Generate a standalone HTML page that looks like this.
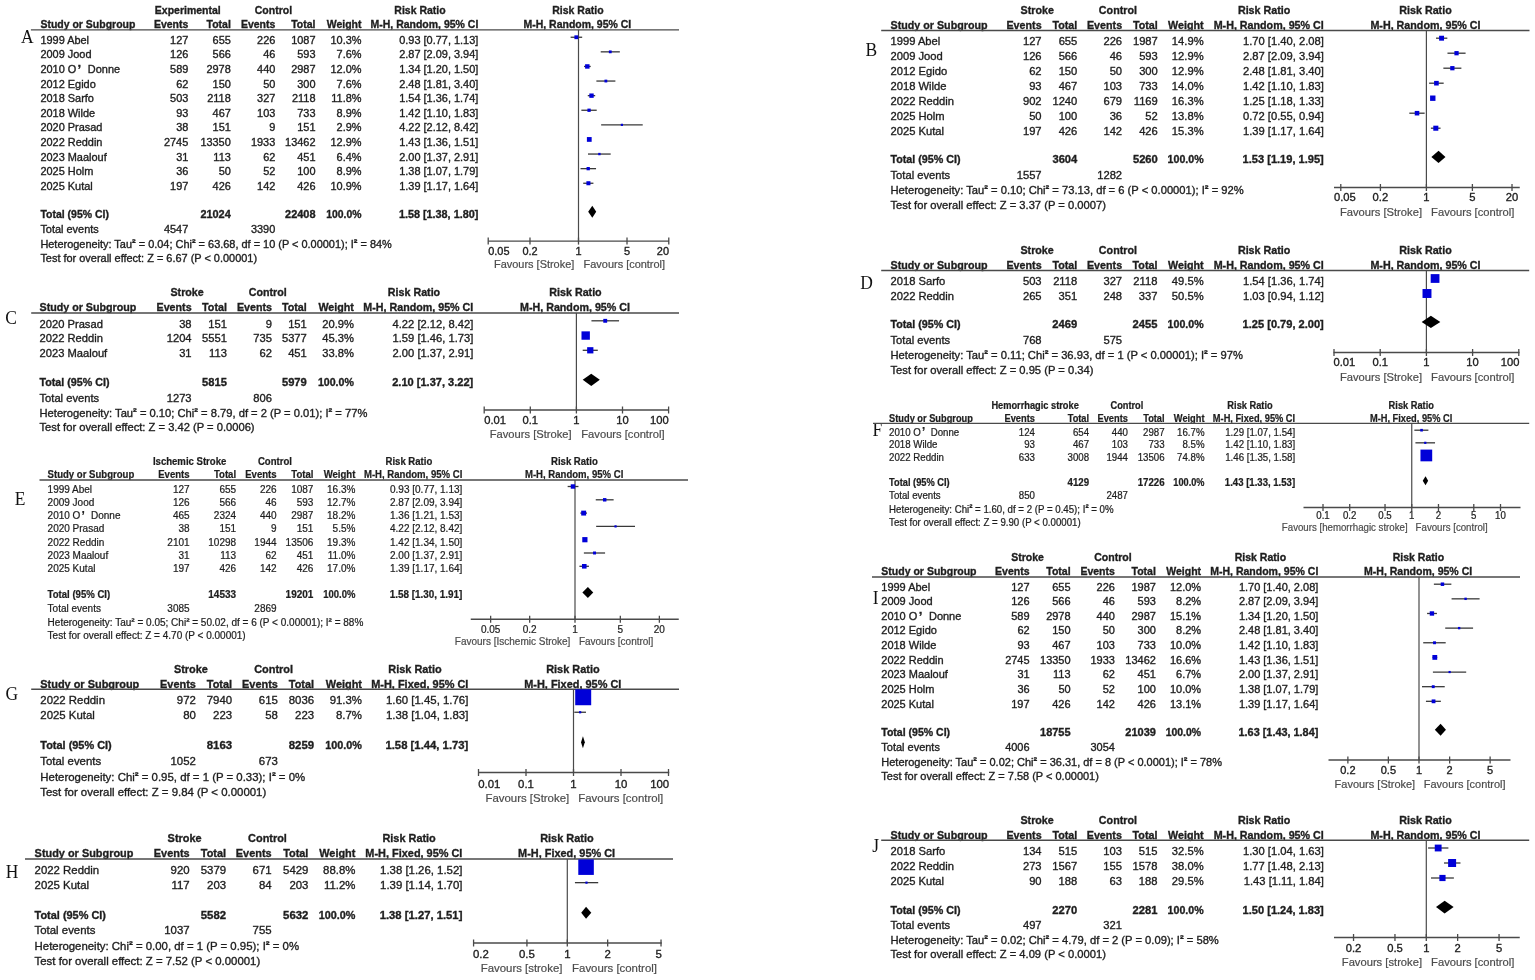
<!DOCTYPE html>
<html><head><meta charset="utf-8"><title>Forest plots</title>
<style>
html,body{margin:0;padding:0;background:#fff;}
body{width:1535px;height:980px;overflow:hidden;}
svg{display:block;}
text{font-family:"Liberation Sans",Arial,sans-serif;fill:#1e1e1e;stroke:#1e1e1e;}
text.lbl{font-family:"Liberation Serif","Times New Roman",serif;fill:#111;stroke:none;}
text.fav{fill:#4c4c4c;stroke:#4c4c4c;stroke-width:0.2px;}
tspan.cj{font-family:"Noto Sans CJK SC","Liberation Sans",sans-serif;}
</style></head><body>
<svg width="1535" height="980" viewBox="0 0 1535 980">
<rect width="1535" height="980" fill="#fff"/>
<g style="stroke-width:0.35px">
<text transform="translate(21 43) scale(0.95 1)" font-size="18.4" class="lbl">A</text>
<text transform="translate(187.75 13.75) scale(0.9580 1)" font-size="10.95" text-anchor="middle" font-weight="bold">Experimental</text>
<text transform="translate(273.4 13.75) scale(0.9580 1)" font-size="10.95" text-anchor="middle" font-weight="bold">Control</text>
<text transform="translate(420 13.75) scale(0.9580 1)" font-size="10.95" text-anchor="middle" font-weight="bold">Risk Ratio</text>
<text transform="translate(577.9 13.75) scale(0.9580 1)" font-size="10.95" text-anchor="middle" font-weight="bold">Risk Ratio</text>
<text transform="translate(40.4 27.6) scale(0.9580 1)" font-size="10.95" font-weight="bold">Study or Subgroup</text>
<text transform="translate(188.3 27.6) scale(0.9580 1)" font-size="10.95" text-anchor="end" font-weight="bold">Events</text>
<text transform="translate(230.8 27.6) scale(0.9580 1)" font-size="10.95" text-anchor="end" font-weight="bold">Total</text>
<text transform="translate(275.3 27.6) scale(0.9580 1)" font-size="10.95" text-anchor="end" font-weight="bold">Events</text>
<text transform="translate(315.5 27.6) scale(0.9580 1)" font-size="10.95" text-anchor="end" font-weight="bold">Total</text>
<text transform="translate(361.5 27.6) scale(0.9580 1)" font-size="10.95" text-anchor="end" font-weight="bold">Weight</text>
<text transform="translate(478.3 27.6) scale(0.9580 1)" font-size="10.95" text-anchor="end" font-weight="bold">M-H, Random, 95% CI</text>
<text transform="translate(577.35 27.6) scale(0.9580 1)" font-size="10.95" text-anchor="middle" font-weight="bold">M-H, Random, 95% CI</text>
<line x1="30.9" y1="29.9" x2="679" y2="29.9" stroke="#4a4a4a" stroke-width="1.4"/>
<line x1="578.5" y1="29.9" x2="578.5" y2="241.1" stroke="#4a4a4a" stroke-width="1.2"/>
<text x="40.4" y="43.75" font-size="10.95">1999 Abel</text>
<text x="188.3" y="43.75" font-size="10.95" text-anchor="end">127</text>
<text x="230.8" y="43.75" font-size="10.95" text-anchor="end">655</text>
<text x="275.3" y="43.75" font-size="10.95" text-anchor="end">226</text>
<text x="315.5" y="43.75" font-size="10.95" text-anchor="end">1087</text>
<text x="361.5" y="43.75" font-size="10.95" text-anchor="end">10.3%</text>
<text x="478.3" y="43.75" font-size="10.95" text-anchor="end">0.93 [0.77, 1.13]</text>
<line x1="570.62" y1="37.25" x2="582.18" y2="37.25" stroke="#383838" stroke-width="1.3"/>
<rect x="574.41" y="35.34" width="3.81" height="3.81" fill="#0000d8"/>
<text x="40.4" y="58.35" font-size="10.95">2009 Jood</text>
<text x="188.3" y="58.35" font-size="10.95" text-anchor="end">126</text>
<text x="230.8" y="58.35" font-size="10.95" text-anchor="end">566</text>
<text x="275.3" y="58.35" font-size="10.95" text-anchor="end">46</text>
<text x="315.5" y="58.35" font-size="10.95" text-anchor="end">593</text>
<text x="361.5" y="58.35" font-size="10.95" text-anchor="end">7.6%</text>
<text x="478.3" y="58.35" font-size="10.95" text-anchor="end">2.87 [2.09, 3.94]</text>
<line x1="600.72" y1="51.85" x2="619.83" y2="51.85" stroke="#383838" stroke-width="1.3"/>
<rect x="608.87" y="50.44" width="2.81" height="2.81" fill="#0000d8"/>
<text x="40.4" y="72.95" font-size="10.95">2010 O<tspan font-weight="bold" font-size="1.2em" dx="1.31" dy="1.09">’</tspan> <tspan dx="3.56" dy="-1.09">Donne</tspan></text>
<text x="188.3" y="72.95" font-size="10.95" text-anchor="end">589</text>
<text x="230.8" y="72.95" font-size="10.95" text-anchor="end">2978</text>
<text x="275.3" y="72.95" font-size="10.95" text-anchor="end">440</text>
<text x="315.5" y="72.95" font-size="10.95" text-anchor="end">2987</text>
<text x="361.5" y="72.95" font-size="10.95" text-anchor="end">12.0%</text>
<text x="478.3" y="72.95" font-size="10.95" text-anchor="end">1.34 [1.20, 1.50]</text>
<line x1="584" y1="66.45" x2="590.72" y2="66.45" stroke="#383838" stroke-width="1.3"/>
<rect x="585.1" y="64.23" width="4.44" height="4.44" fill="#0000d8"/>
<text x="40.4" y="87.55" font-size="10.95">2012 Egido</text>
<text x="188.3" y="87.55" font-size="10.95" text-anchor="end">62</text>
<text x="230.8" y="87.55" font-size="10.95" text-anchor="end">150</text>
<text x="275.3" y="87.55" font-size="10.95" text-anchor="end">50</text>
<text x="315.5" y="87.55" font-size="10.95" text-anchor="end">300</text>
<text x="361.5" y="87.55" font-size="10.95" text-anchor="end">7.6%</text>
<text x="478.3" y="87.55" font-size="10.95" text-anchor="end">2.48 [1.81, 3.40]</text>
<line x1="596.38" y1="81.05" x2="615.38" y2="81.05" stroke="#383838" stroke-width="1.3"/>
<rect x="604.47" y="79.64" width="2.81" height="2.81" fill="#0000d8"/>
<text x="40.4" y="102.15" font-size="10.95">2018 Sarfo</text>
<text x="188.3" y="102.15" font-size="10.95" text-anchor="end">503</text>
<text x="230.8" y="102.15" font-size="10.95" text-anchor="end">2118</text>
<text x="275.3" y="102.15" font-size="10.95" text-anchor="end">327</text>
<text x="315.5" y="102.15" font-size="10.95" text-anchor="end">2118</text>
<text x="361.5" y="102.15" font-size="10.95" text-anchor="end">11.8%</text>
<text x="478.3" y="102.15" font-size="10.95" text-anchor="end">1.54 [1.36, 1.74]</text>
<line x1="587.77" y1="95.65" x2="595.19" y2="95.65" stroke="#383838" stroke-width="1.3"/>
<rect x="589.33" y="93.47" width="4.37" height="4.37" fill="#0000d8"/>
<text x="40.4" y="116.75" font-size="10.95">2018 Wilde</text>
<text x="188.3" y="116.75" font-size="10.95" text-anchor="end">93</text>
<text x="230.8" y="116.75" font-size="10.95" text-anchor="end">467</text>
<text x="275.3" y="116.75" font-size="10.95" text-anchor="end">103</text>
<text x="315.5" y="116.75" font-size="10.95" text-anchor="end">733</text>
<text x="361.5" y="116.75" font-size="10.95" text-anchor="end">8.9%</text>
<text x="478.3" y="116.75" font-size="10.95" text-anchor="end">1.42 [1.10, 1.83]</text>
<line x1="581.37" y1="110.25" x2="596.71" y2="110.25" stroke="#383838" stroke-width="1.3"/>
<rect x="587.42" y="108.6" width="3.29" height="3.29" fill="#0000d8"/>
<text x="40.4" y="131.35" font-size="10.95">2020 Prasad</text>
<text x="188.3" y="131.35" font-size="10.95" text-anchor="end">38</text>
<text x="230.8" y="131.35" font-size="10.95" text-anchor="end">151</text>
<text x="275.3" y="131.35" font-size="10.95" text-anchor="end">9</text>
<text x="315.5" y="131.35" font-size="10.95" text-anchor="end">151</text>
<text x="361.5" y="131.35" font-size="10.95" text-anchor="end">2.9%</text>
<text x="478.3" y="131.35" font-size="10.95" text-anchor="end">4.22 [2.12, 8.42]</text>
<line x1="601.15" y1="124.85" x2="642.72" y2="124.85" stroke="#383838" stroke-width="1.3"/>
<rect x="620.8" y="123.75" width="2.2" height="2.2" fill="#0000d8"/>
<text x="40.4" y="145.95" font-size="10.95">2022 Reddin</text>
<text x="188.3" y="145.95" font-size="10.95" text-anchor="end">2745</text>
<text x="230.8" y="145.95" font-size="10.95" text-anchor="end">13350</text>
<text x="275.3" y="145.95" font-size="10.95" text-anchor="end">1933</text>
<text x="315.5" y="145.95" font-size="10.95" text-anchor="end">13462</text>
<text x="361.5" y="145.95" font-size="10.95" text-anchor="end">12.9%</text>
<text x="478.3" y="145.95" font-size="10.95" text-anchor="end">1.43 [1.36, 1.51]</text>
<line x1="587.77" y1="139.45" x2="590.92" y2="139.45" stroke="#383838" stroke-width="1.3"/>
<rect x="586.89" y="137.06" width="4.77" height="4.77" fill="#0000d8"/>
<text x="40.4" y="160.55" font-size="10.95">2023 Maalouf</text>
<text x="188.3" y="160.55" font-size="10.95" text-anchor="end">31</text>
<text x="230.8" y="160.55" font-size="10.95" text-anchor="end">113</text>
<text x="275.3" y="160.55" font-size="10.95" text-anchor="end">62</text>
<text x="315.5" y="160.55" font-size="10.95" text-anchor="end">451</text>
<text x="361.5" y="160.55" font-size="10.95" text-anchor="end">6.4%</text>
<text x="478.3" y="160.55" font-size="10.95" text-anchor="end">2.00 [1.37, 2.91]</text>
<line x1="587.99" y1="154.05" x2="610.69" y2="154.05" stroke="#383838" stroke-width="1.3"/>
<rect x="598.21" y="152.87" width="2.37" height="2.37" fill="#0000d8"/>
<text x="40.4" y="175.15" font-size="10.95">2025 Holm</text>
<text x="188.3" y="175.15" font-size="10.95" text-anchor="end">36</text>
<text x="230.8" y="175.15" font-size="10.95" text-anchor="end">50</text>
<text x="275.3" y="175.15" font-size="10.95" text-anchor="end">52</text>
<text x="315.5" y="175.15" font-size="10.95" text-anchor="end">100</text>
<text x="361.5" y="175.15" font-size="10.95" text-anchor="end">8.9%</text>
<text x="478.3" y="175.15" font-size="10.95" text-anchor="end">1.38 [1.07, 1.79]</text>
<line x1="580.54" y1="168.65" x2="596.05" y2="168.65" stroke="#383838" stroke-width="1.3"/>
<rect x="586.56" y="167" width="3.29" height="3.29" fill="#0000d8"/>
<text x="40.4" y="189.75" font-size="10.95">2025 Kutal</text>
<text x="188.3" y="189.75" font-size="10.95" text-anchor="end">197</text>
<text x="230.8" y="189.75" font-size="10.95" text-anchor="end">426</text>
<text x="275.3" y="189.75" font-size="10.95" text-anchor="end">142</text>
<text x="315.5" y="189.75" font-size="10.95" text-anchor="end">426</text>
<text x="361.5" y="189.75" font-size="10.95" text-anchor="end">10.9%</text>
<text x="478.3" y="189.75" font-size="10.95" text-anchor="end">1.39 [1.17, 1.64]</text>
<line x1="583.23" y1="183.25" x2="593.41" y2="183.25" stroke="#383838" stroke-width="1.3"/>
<rect x="586.41" y="181.23" width="4.03" height="4.03" fill="#0000d8"/>
<text transform="translate(40.4 217.9) scale(0.9580 1)" font-size="10.95" font-weight="bold">Total (95% CI)</text>
<text x="230.8" y="217.9" font-size="10.95" text-anchor="end" font-weight="bold">21024</text>
<text x="315.5" y="217.9" font-size="10.95" text-anchor="end" font-weight="bold">22408</text>
<text transform="translate(361.5 217.9) scale(0.9500 1)" font-size="10.95" text-anchor="end" font-weight="bold">100.0%</text>
<text transform="translate(478.3 217.9) scale(0.9900 1)" font-size="10.95" text-anchor="end" font-weight="bold">1.58 [1.38, 1.80]</text>
<polygon points="588.21,211.7 592.29,205.7 596.22,211.7 592.29,217.7" fill="#000"/>
<text x="40.4" y="233.1" font-size="10.95">Total events</text>
<text x="188.3" y="233.1" font-size="10.95" text-anchor="end">4547</text>
<text x="275.3" y="233.1" font-size="10.95" text-anchor="end">3390</text>
<text x="40.4" y="247.6" font-size="10.95">Heterogeneity: Tau<tspan font-weight="bold" baseline-shift="0.77">²</tspan> = 0.04; Chi<tspan font-weight="bold" baseline-shift="0.77">²</tspan> = 63.68, df = 10 (P &lt; 0.00001); I<tspan font-weight="bold" baseline-shift="0.77">²</tspan> = 84%</text>
<text x="40.4" y="262.1" font-size="10.95">Test for overall effect: Z = 6.67 (P &lt; 0.00001)</text>
<line x1="488.2" y1="241.1" x2="669" y2="241.1" stroke="#4a4a4a" stroke-width="1.4"/>
<line x1="488.21" y1="237.6" x2="488.21" y2="244.6" stroke="#4a4a4a" stroke-width="1.3"/>
<text x="488.2" y="254.9" font-size="10.95">0.05</text>
<line x1="529.99" y1="237.6" x2="529.99" y2="244.6" stroke="#4a4a4a" stroke-width="1.3"/>
<text x="522.38" y="254.9" font-size="10.95">0.2</text>
<line x1="578.5" y1="237.6" x2="578.5" y2="244.6" stroke="#4a4a4a" stroke-width="1.3"/>
<text x="575.46" y="254.9" font-size="10.95">1</text>
<line x1="627.01" y1="237.6" x2="627.01" y2="244.6" stroke="#4a4a4a" stroke-width="1.3"/>
<text x="623.96" y="254.9" font-size="10.95">5</text>
<line x1="668.79" y1="237.6" x2="668.79" y2="244.6" stroke="#4a4a4a" stroke-width="1.3"/>
<text x="656.82" y="254.9" font-size="10.95">20</text>
<text x="574.3" y="268.4" font-size="10.95" text-anchor="end" class="fav">Favours [Stroke]</text>
<text x="583.6" y="268.4" font-size="10.95" class="fav">Favours [control]</text>
</g>
<g style="stroke-width:0.35px">
<text transform="translate(865.5 55.5) scale(0.95 1)" font-size="18.4" class="lbl">B</text>
<text transform="translate(1037.25 13.75) scale(0.9580 1)" font-size="11.2" text-anchor="middle" font-weight="bold">Stroke</text>
<text transform="translate(1117.9 13.75) scale(0.9580 1)" font-size="11.2" text-anchor="middle" font-weight="bold">Control</text>
<text transform="translate(1264.1 13.75) scale(0.9580 1)" font-size="11.2" text-anchor="middle" font-weight="bold">Risk Ratio</text>
<text transform="translate(1425.5 13.75) scale(0.9580 1)" font-size="11.2" text-anchor="middle" font-weight="bold">Risk Ratio</text>
<text transform="translate(890.5 28.75) scale(0.9580 1)" font-size="11.2" font-weight="bold">Study or Subgroup</text>
<text transform="translate(1041.6 28.75) scale(0.9580 1)" font-size="11.2" text-anchor="end" font-weight="bold">Events</text>
<text transform="translate(1077.3 28.75) scale(0.9580 1)" font-size="11.2" text-anchor="end" font-weight="bold">Total</text>
<text transform="translate(1122.1 28.75) scale(0.9580 1)" font-size="11.2" text-anchor="end" font-weight="bold">Events</text>
<text transform="translate(1157.8 28.75) scale(0.9580 1)" font-size="11.2" text-anchor="end" font-weight="bold">Total</text>
<text transform="translate(1203.6 28.75) scale(0.9580 1)" font-size="11.2" text-anchor="end" font-weight="bold">Weight</text>
<text transform="translate(1323.8 28.75) scale(0.9580 1)" font-size="11.2" text-anchor="end" font-weight="bold">M-H, Random, 95% CI</text>
<text transform="translate(1425.5 28.75) scale(0.9580 1)" font-size="11.2" text-anchor="middle" font-weight="bold">M-H, Random, 95% CI</text>
<line x1="881.2" y1="30.5" x2="1529.5" y2="30.5" stroke="#4a4a4a" stroke-width="1.4"/>
<line x1="1426.4" y1="30.5" x2="1426.4" y2="187.5" stroke="#4a4a4a" stroke-width="1.2"/>
<text x="890.5" y="44.5" font-size="11.2">1999 Abel</text>
<text x="1041.6" y="44.5" font-size="11.2" text-anchor="end">127</text>
<text x="1077.3" y="44.5" font-size="11.2" text-anchor="end">655</text>
<text x="1122.1" y="44.5" font-size="11.2" text-anchor="end">226</text>
<text x="1157.8" y="44.5" font-size="11.2" text-anchor="end">1987</text>
<text x="1203.6" y="44.5" font-size="11.2" text-anchor="end">14.9%</text>
<text x="1323.8" y="44.5" font-size="11.2" text-anchor="end">1.70 [1.40, 2.08]</text>
<line x1="1436.02" y1="38.2" x2="1447.33" y2="38.2" stroke="#383838" stroke-width="1.3"/>
<rect x="1439.11" y="35.74" width="4.92" height="4.92" fill="#0000d8"/>
<text x="890.5" y="59.5" font-size="11.2">2009 Jood</text>
<text x="1041.6" y="59.5" font-size="11.2" text-anchor="end">126</text>
<text x="1077.3" y="59.5" font-size="11.2" text-anchor="end">566</text>
<text x="1122.1" y="59.5" font-size="11.2" text-anchor="end">46</text>
<text x="1157.8" y="59.5" font-size="11.2" text-anchor="end">593</text>
<text x="1203.6" y="59.5" font-size="11.2" text-anchor="end">12.9%</text>
<text x="1323.8" y="59.5" font-size="11.2" text-anchor="end">2.87 [2.09, 3.94]</text>
<line x1="1447.47" y1="53.2" x2="1465.58" y2="53.2" stroke="#383838" stroke-width="1.3"/>
<rect x="1454.4" y="51.07" width="4.26" height="4.26" fill="#0000d8"/>
<text x="890.5" y="74.5" font-size="11.2">2012 Egido</text>
<text x="1041.6" y="74.5" font-size="11.2" text-anchor="end">62</text>
<text x="1077.3" y="74.5" font-size="11.2" text-anchor="end">150</text>
<text x="1122.1" y="74.5" font-size="11.2" text-anchor="end">50</text>
<text x="1157.8" y="74.5" font-size="11.2" text-anchor="end">300</text>
<text x="1203.6" y="74.5" font-size="11.2" text-anchor="end">12.9%</text>
<text x="1323.8" y="74.5" font-size="11.2" text-anchor="end">2.48 [1.81, 3.40]</text>
<line x1="1443.36" y1="68.2" x2="1461.37" y2="68.2" stroke="#383838" stroke-width="1.3"/>
<rect x="1450.23" y="66.07" width="4.26" height="4.26" fill="#0000d8"/>
<text x="890.5" y="89.5" font-size="11.2">2018 Wilde</text>
<text x="1041.6" y="89.5" font-size="11.2" text-anchor="end">93</text>
<text x="1077.3" y="89.5" font-size="11.2" text-anchor="end">467</text>
<text x="1122.1" y="89.5" font-size="11.2" text-anchor="end">103</text>
<text x="1157.8" y="89.5" font-size="11.2" text-anchor="end">733</text>
<text x="1203.6" y="89.5" font-size="11.2" text-anchor="end">14.0%</text>
<text x="1323.8" y="89.5" font-size="11.2" text-anchor="end">1.42 [1.10, 1.83]</text>
<line x1="1429.12" y1="83.2" x2="1443.67" y2="83.2" stroke="#383838" stroke-width="1.3"/>
<rect x="1434.11" y="80.89" width="4.62" height="4.62" fill="#0000d8"/>
<text x="890.5" y="104.5" font-size="11.2">2022 Reddin</text>
<text x="1041.6" y="104.5" font-size="11.2" text-anchor="end">902</text>
<text x="1077.3" y="104.5" font-size="11.2" text-anchor="end">1240</text>
<text x="1122.1" y="104.5" font-size="11.2" text-anchor="end">679</text>
<text x="1157.8" y="104.5" font-size="11.2" text-anchor="end">1169</text>
<text x="1203.6" y="104.5" font-size="11.2" text-anchor="end">16.3%</text>
<text x="1323.8" y="104.5" font-size="11.2" text-anchor="end">1.25 [1.18, 1.33]</text>
<line x1="1431.13" y1="98.2" x2="1434.55" y2="98.2" stroke="#383838" stroke-width="1.3"/>
<rect x="1430.09" y="95.51" width="5.38" height="5.38" fill="#0000d8"/>
<text x="890.5" y="119.5" font-size="11.2">2025 Holm</text>
<text x="1041.6" y="119.5" font-size="11.2" text-anchor="end">50</text>
<text x="1077.3" y="119.5" font-size="11.2" text-anchor="end">100</text>
<text x="1122.1" y="119.5" font-size="11.2" text-anchor="end">36</text>
<text x="1157.8" y="119.5" font-size="11.2" text-anchor="end">52</text>
<text x="1203.6" y="119.5" font-size="11.2" text-anchor="end">13.8%</text>
<text x="1323.8" y="119.5" font-size="11.2" text-anchor="end">0.72 [0.55, 0.94]</text>
<line x1="1409.32" y1="113.2" x2="1424.63" y2="113.2" stroke="#383838" stroke-width="1.3"/>
<rect x="1414.74" y="110.92" width="4.55" height="4.55" fill="#0000d8"/>
<text x="890.5" y="134.5" font-size="11.2">2025 Kutal</text>
<text x="1041.6" y="134.5" font-size="11.2" text-anchor="end">197</text>
<text x="1077.3" y="134.5" font-size="11.2" text-anchor="end">426</text>
<text x="1122.1" y="134.5" font-size="11.2" text-anchor="end">142</text>
<text x="1157.8" y="134.5" font-size="11.2" text-anchor="end">426</text>
<text x="1203.6" y="134.5" font-size="11.2" text-anchor="end">15.3%</text>
<text x="1323.8" y="134.5" font-size="11.2" text-anchor="end">1.39 [1.17, 1.64]</text>
<line x1="1430.89" y1="128.2" x2="1440.54" y2="128.2" stroke="#383838" stroke-width="1.3"/>
<rect x="1433.29" y="125.68" width="5.05" height="5.05" fill="#0000d8"/>
<text transform="translate(890.5 163) scale(0.9580 1)" font-size="11.2" font-weight="bold">Total (95% CI)</text>
<text x="1077.3" y="163" font-size="11.2" text-anchor="end" font-weight="bold">3604</text>
<text x="1157.8" y="163" font-size="11.2" text-anchor="end" font-weight="bold">5260</text>
<text transform="translate(1203.6 163) scale(0.9500 1)" font-size="11.2" text-anchor="end" font-weight="bold">100.0%</text>
<text transform="translate(1323.8 163) scale(0.9900 1)" font-size="11.2" text-anchor="end" font-weight="bold">1.53 [1.19, 1.95]</text>
<polygon points="1431.37,156.9 1438.55,150.7 1445.48,156.9 1438.55,163.1" fill="#000"/>
<text x="890.5" y="179.25" font-size="11.2">Total events</text>
<text x="1041.6" y="179.25" font-size="11.2" text-anchor="end">1557</text>
<text x="1122.1" y="179.25" font-size="11.2" text-anchor="end">1282</text>
<text x="890.5" y="193.75" font-size="11.2">Heterogeneity: Tau<tspan font-weight="bold" baseline-shift="0.78">²</tspan> = 0.10; Chi<tspan font-weight="bold" baseline-shift="0.78">²</tspan> = 73.13, df = 6 (P &lt; 0.00001); I<tspan font-weight="bold" baseline-shift="0.78">²</tspan> = 92%</text>
<text x="890.5" y="208.75" font-size="11.2">Test for overall effect: Z = 3.37 (P = 0.0007)</text>
<line x1="1334" y1="187.5" x2="1519.75" y2="187.5" stroke="#4a4a4a" stroke-width="1.4"/>
<line x1="1340.79" y1="184" x2="1340.79" y2="191" stroke="#4a4a4a" stroke-width="1.3"/>
<text x="1334" y="201.25" font-size="11.2">0.05</text>
<line x1="1380.41" y1="184" x2="1380.41" y2="191" stroke="#4a4a4a" stroke-width="1.3"/>
<text x="1372.62" y="201.25" font-size="11.2">0.2</text>
<line x1="1426.4" y1="184" x2="1426.4" y2="191" stroke="#4a4a4a" stroke-width="1.3"/>
<text x="1423.29" y="201.25" font-size="11.2">1</text>
<line x1="1472.39" y1="184" x2="1472.39" y2="191" stroke="#4a4a4a" stroke-width="1.3"/>
<text x="1469.28" y="201.25" font-size="11.2">5</text>
<line x1="1512.01" y1="184" x2="1512.01" y2="191" stroke="#4a4a4a" stroke-width="1.3"/>
<text x="1505.78" y="201.25" font-size="11.2">20</text>
<text x="1422" y="215.5" font-size="11.2" text-anchor="end" class="fav">Favours [Stroke]</text>
<text x="1431.1" y="215.5" font-size="11.2" class="fav">Favours [control]</text>
</g>
<g style="stroke-width:0.35px">
<text transform="translate(5.2 324.1) scale(0.95 1)" font-size="18.4" class="lbl">C</text>
<text transform="translate(187.1 296.25) scale(0.9580 1)" font-size="11.18" text-anchor="middle" font-weight="bold">Stroke</text>
<text transform="translate(267.75 296.25) scale(0.9580 1)" font-size="11.18" text-anchor="middle" font-weight="bold">Control</text>
<text transform="translate(414 296.25) scale(0.9580 1)" font-size="11.18" text-anchor="middle" font-weight="bold">Risk Ratio</text>
<text transform="translate(575.5 296.25) scale(0.9580 1)" font-size="11.18" text-anchor="middle" font-weight="bold">Risk Ratio</text>
<text transform="translate(39.5 311.25) scale(0.9580 1)" font-size="11.18" font-weight="bold">Study or Subgroup</text>
<text transform="translate(191.6 311.25) scale(0.9580 1)" font-size="11.18" text-anchor="end" font-weight="bold">Events</text>
<text transform="translate(226.9 311.25) scale(0.9580 1)" font-size="11.18" text-anchor="end" font-weight="bold">Total</text>
<text transform="translate(272 311.25) scale(0.9580 1)" font-size="11.18" text-anchor="end" font-weight="bold">Events</text>
<text transform="translate(306.8 311.25) scale(0.9580 1)" font-size="11.18" text-anchor="end" font-weight="bold">Total</text>
<text transform="translate(353.9 311.25) scale(0.9580 1)" font-size="11.18" text-anchor="end" font-weight="bold">Weight</text>
<text transform="translate(473.3 311.25) scale(0.9580 1)" font-size="11.18" text-anchor="end" font-weight="bold">M-H, Random, 95% CI</text>
<text transform="translate(575 311.25) scale(0.9580 1)" font-size="11.18" text-anchor="middle" font-weight="bold">M-H, Random, 95% CI</text>
<line x1="31.2" y1="313" x2="679" y2="313" stroke="#4a4a4a" stroke-width="1.4"/>
<line x1="576.4" y1="313" x2="576.4" y2="410" stroke="#4a4a4a" stroke-width="1.2"/>
<text x="39.5" y="327.5" font-size="11.18">2020 Prasad</text>
<text x="191.6" y="327.5" font-size="11.18" text-anchor="end">38</text>
<text x="226.9" y="327.5" font-size="11.18" text-anchor="end">151</text>
<text x="272" y="327.5" font-size="11.18" text-anchor="end">9</text>
<text x="306.8" y="327.5" font-size="11.18" text-anchor="end">151</text>
<text x="353.9" y="327.5" font-size="11.18" text-anchor="end">20.9%</text>
<text x="473.3" y="327.5" font-size="11.18" text-anchor="end">4.22 [2.12, 8.42]</text>
<line x1="591.44" y1="320.8" x2="619.06" y2="320.8" stroke="#383838" stroke-width="1.3"/>
<rect x="603.29" y="318.87" width="3.87" height="3.87" fill="#0000d8"/>
<text x="39.5" y="342.25" font-size="11.18">2022 Reddin</text>
<text x="191.6" y="342.25" font-size="11.18" text-anchor="end">1204</text>
<text x="226.9" y="342.25" font-size="11.18" text-anchor="end">5551</text>
<text x="272" y="342.25" font-size="11.18" text-anchor="end">735</text>
<text x="306.8" y="342.25" font-size="11.18" text-anchor="end">5377</text>
<text x="353.9" y="342.25" font-size="11.18" text-anchor="end">45.3%</text>
<text x="473.3" y="342.25" font-size="11.18" text-anchor="end">1.59 [1.46, 1.73]</text>
<line x1="583.98" y1="335.55" x2="587.37" y2="335.55" stroke="#383838" stroke-width="1.3"/>
<rect x="581.49" y="331.36" width="8.38" height="8.38" fill="#0000d8"/>
<text x="39.5" y="357" font-size="11.18">2023 Maalouf</text>
<text x="191.6" y="357" font-size="11.18" text-anchor="end">31</text>
<text x="226.9" y="357" font-size="11.18" text-anchor="end">113</text>
<text x="272" y="357" font-size="11.18" text-anchor="end">62</text>
<text x="306.8" y="357" font-size="11.18" text-anchor="end">451</text>
<text x="353.9" y="357" font-size="11.18" text-anchor="end">33.8%</text>
<text x="473.3" y="357" font-size="11.18" text-anchor="end">2.00 [1.37, 2.91]</text>
<line x1="582.7" y1="350.3" x2="597.79" y2="350.3" stroke="#383838" stroke-width="1.3"/>
<rect x="587.15" y="347.17" width="6.25" height="6.25" fill="#0000d8"/>
<text transform="translate(39.5 386.25) scale(0.9580 1)" font-size="11.18" font-weight="bold">Total (95% CI)</text>
<text x="226.9" y="386.25" font-size="11.18" text-anchor="end" font-weight="bold">5815</text>
<text x="306.8" y="386.25" font-size="11.18" text-anchor="end" font-weight="bold">5979</text>
<text transform="translate(353.9 386.25) scale(0.9500 1)" font-size="11.18" text-anchor="end" font-weight="bold">100.0%</text>
<text transform="translate(473.3 386.25) scale(0.9900 1)" font-size="11.18" text-anchor="end" font-weight="bold">2.10 [1.37, 3.22]</text>
<polygon points="582.7,379.85 591.25,373.75 599.81,379.85 591.25,385.95" fill="#000"/>
<text x="39.5" y="402" font-size="11.18">Total events</text>
<text x="191.6" y="402" font-size="11.18" text-anchor="end">1273</text>
<text x="272" y="402" font-size="11.18" text-anchor="end">806</text>
<text x="39.5" y="417" font-size="11.18">Heterogeneity: Tau<tspan font-weight="bold" baseline-shift="0.78">²</tspan> = 0.10; Chi<tspan font-weight="bold" baseline-shift="0.78">²</tspan> = 8.79, df = 2 (P = 0.01); I<tspan font-weight="bold" baseline-shift="0.78">²</tspan> = 77%</text>
<text x="39.5" y="431.25" font-size="11.18">Test for overall effect: Z = 3.42 (P = 0.0006)</text>
<line x1="484.25" y1="410" x2="668.75" y2="410" stroke="#4a4a4a" stroke-width="1.4"/>
<line x1="484.2" y1="406.5" x2="484.2" y2="413.5" stroke="#4a4a4a" stroke-width="1.3"/>
<text x="484.25" y="423.75" font-size="11.18">0.01</text>
<line x1="530.3" y1="406.5" x2="530.3" y2="413.5" stroke="#4a4a4a" stroke-width="1.3"/>
<text x="522.53" y="423.75" font-size="11.18">0.1</text>
<line x1="576.4" y1="406.5" x2="576.4" y2="413.5" stroke="#4a4a4a" stroke-width="1.3"/>
<text x="573.29" y="423.75" font-size="11.18">1</text>
<line x1="622.5" y1="406.5" x2="622.5" y2="413.5" stroke="#4a4a4a" stroke-width="1.3"/>
<text x="616.28" y="423.75" font-size="11.18">10</text>
<line x1="668.6" y1="406.5" x2="668.6" y2="413.5" stroke="#4a4a4a" stroke-width="1.3"/>
<text x="650.1" y="423.75" font-size="11.18">100</text>
<text x="571.7" y="437.5" font-size="11.18" text-anchor="end" class="fav">Favours [Stroke]</text>
<text x="581.3" y="437.5" font-size="11.18" class="fav">Favours [control]</text>
</g>
<g style="stroke-width:0.35px">
<text transform="translate(860.3 289) scale(0.95 1)" font-size="18.4" class="lbl">D</text>
<text transform="translate(1037.1 254.25) scale(0.9580 1)" font-size="11.2" text-anchor="middle" font-weight="bold">Stroke</text>
<text transform="translate(1117.9 254.25) scale(0.9580 1)" font-size="11.2" text-anchor="middle" font-weight="bold">Control</text>
<text transform="translate(1264.1 254.25) scale(0.9580 1)" font-size="11.2" text-anchor="middle" font-weight="bold">Risk Ratio</text>
<text transform="translate(1425.5 254.25) scale(0.9580 1)" font-size="11.2" text-anchor="middle" font-weight="bold">Risk Ratio</text>
<text transform="translate(890.5 268.75) scale(0.9580 1)" font-size="11.2" font-weight="bold">Study or Subgroup</text>
<text transform="translate(1041.6 268.75) scale(0.9580 1)" font-size="11.2" text-anchor="end" font-weight="bold">Events</text>
<text transform="translate(1077.2 268.75) scale(0.9580 1)" font-size="11.2" text-anchor="end" font-weight="bold">Total</text>
<text transform="translate(1122.1 268.75) scale(0.9580 1)" font-size="11.2" text-anchor="end" font-weight="bold">Events</text>
<text transform="translate(1157.4 268.75) scale(0.9580 1)" font-size="11.2" text-anchor="end" font-weight="bold">Total</text>
<text transform="translate(1203.6 268.75) scale(0.9580 1)" font-size="11.2" text-anchor="end" font-weight="bold">Weight</text>
<text transform="translate(1323.8 268.75) scale(0.9580 1)" font-size="11.2" text-anchor="end" font-weight="bold">M-H, Random, 95% CI</text>
<text transform="translate(1425.5 268.75) scale(0.9580 1)" font-size="11.2" text-anchor="middle" font-weight="bold">M-H, Random, 95% CI</text>
<line x1="881.2" y1="270.5" x2="1529.2" y2="270.5" stroke="#4a4a4a" stroke-width="1.4"/>
<line x1="1426.4" y1="270.5" x2="1426.4" y2="352.5" stroke="#4a4a4a" stroke-width="1.2"/>
<text x="890.5" y="284.5" font-size="11.2">2018 Sarfo</text>
<text x="1041.6" y="284.5" font-size="11.2" text-anchor="end">503</text>
<text x="1077.2" y="284.5" font-size="11.2" text-anchor="end">2118</text>
<text x="1122.1" y="284.5" font-size="11.2" text-anchor="end">327</text>
<text x="1157.4" y="284.5" font-size="11.2" text-anchor="end">2118</text>
<text x="1203.6" y="284.5" font-size="11.2" text-anchor="end">49.5%</text>
<text x="1323.8" y="284.5" font-size="11.2" text-anchor="end">1.54 [1.36, 1.74]</text>
<line x1="1432.57" y1="278.5" x2="1437.51" y2="278.5" stroke="#383838" stroke-width="1.3"/>
<rect x="1430.68" y="274.12" width="8.76" height="8.76" fill="#0000d8"/>
<text x="890.5" y="299.5" font-size="11.2">2022 Reddin</text>
<text x="1041.6" y="299.5" font-size="11.2" text-anchor="end">265</text>
<text x="1077.2" y="299.5" font-size="11.2" text-anchor="end">351</text>
<text x="1122.1" y="299.5" font-size="11.2" text-anchor="end">248</text>
<text x="1157.4" y="299.5" font-size="11.2" text-anchor="end">337</text>
<text x="1203.6" y="299.5" font-size="11.2" text-anchor="end">50.5%</text>
<text x="1323.8" y="299.5" font-size="11.2" text-anchor="end">1.03 [0.94, 1.12]</text>
<line x1="1425.16" y1="293.5" x2="1428.67" y2="293.5" stroke="#383838" stroke-width="1.3"/>
<rect x="1422.52" y="289.03" width="8.94" height="8.94" fill="#0000d8"/>
<text transform="translate(890.5 328) scale(0.9580 1)" font-size="11.2" font-weight="bold">Total (95% CI)</text>
<text x="1077.2" y="328" font-size="11.2" text-anchor="end" font-weight="bold">2469</text>
<text x="1157.4" y="328" font-size="11.2" text-anchor="end" font-weight="bold">2455</text>
<text transform="translate(1203.6 328) scale(0.9500 1)" font-size="11.2" text-anchor="end" font-weight="bold">100.0%</text>
<text transform="translate(1323.8 328) scale(0.9900 1)" font-size="11.2" text-anchor="end" font-weight="bold">1.25 [0.79, 2.00]</text>
<polygon points="1421.67,321.9 1430.88,315.7 1440.31,321.9 1430.88,328.1" fill="#000"/>
<text x="890.5" y="344.25" font-size="11.2">Total events</text>
<text x="1041.6" y="344.25" font-size="11.2" text-anchor="end">768</text>
<text x="1122.1" y="344.25" font-size="11.2" text-anchor="end">575</text>
<text x="890.5" y="358.6" font-size="11.2">Heterogeneity: Tau<tspan font-weight="bold" baseline-shift="0.78">²</tspan> = 0.11; Chi<tspan font-weight="bold" baseline-shift="0.78">²</tspan> = 36.93, df = 1 (P &lt; 0.00001); I<tspan font-weight="bold" baseline-shift="0.78">²</tspan> = 97%</text>
<text x="890.5" y="373.75" font-size="11.2">Test for overall effect: Z = 0.95 (P = 0.34)</text>
<line x1="1333.5" y1="352.5" x2="1519.5" y2="352.5" stroke="#4a4a4a" stroke-width="1.4"/>
<line x1="1334" y1="349" x2="1334" y2="356" stroke="#4a4a4a" stroke-width="1.3"/>
<text x="1333.5" y="366.25" font-size="11.2">0.01</text>
<line x1="1380.2" y1="349" x2="1380.2" y2="356" stroke="#4a4a4a" stroke-width="1.3"/>
<text x="1372.42" y="366.25" font-size="11.2">0.1</text>
<line x1="1426.4" y1="349" x2="1426.4" y2="356" stroke="#4a4a4a" stroke-width="1.3"/>
<text x="1423.29" y="366.25" font-size="11.2">1</text>
<line x1="1472.6" y1="349" x2="1472.6" y2="356" stroke="#4a4a4a" stroke-width="1.3"/>
<text x="1466.37" y="366.25" font-size="11.2">10</text>
<line x1="1518.8" y1="349" x2="1518.8" y2="356" stroke="#4a4a4a" stroke-width="1.3"/>
<text x="1500.82" y="366.25" font-size="11.2">100</text>
<text x="1422" y="380.5" font-size="11.2" text-anchor="end" class="fav">Favours [Stroke]</text>
<text x="1431.1" y="380.5" font-size="11.2" class="fav">Favours [control]</text>
</g>
<g style="stroke-width:0.22px">
<text transform="translate(14.7 505) scale(0.95 1)" font-size="18.4" class="lbl">E</text>
<text transform="translate(189.6 465) scale(0.9580 1)" font-size="10" text-anchor="middle" font-weight="bold">Ischemic Stroke</text>
<text transform="translate(274.9 465) scale(0.9580 1)" font-size="10" text-anchor="middle" font-weight="bold">Control</text>
<text transform="translate(408.9 465) scale(0.9580 1)" font-size="10" text-anchor="middle" font-weight="bold">Risk Ratio</text>
<text transform="translate(574.4 465) scale(0.9580 1)" font-size="10" text-anchor="middle" font-weight="bold">Risk Ratio</text>
<text transform="translate(47.6 478) scale(0.9580 1)" font-size="10" font-weight="bold">Study or Subgroup</text>
<text transform="translate(189.6 478) scale(0.9580 1)" font-size="10" text-anchor="end" font-weight="bold">Events</text>
<text transform="translate(236.1 478) scale(0.9580 1)" font-size="10" text-anchor="end" font-weight="bold">Total</text>
<text transform="translate(276.6 478) scale(0.9580 1)" font-size="10" text-anchor="end" font-weight="bold">Events</text>
<text transform="translate(313.4 478) scale(0.9580 1)" font-size="10" text-anchor="end" font-weight="bold">Total</text>
<text transform="translate(355.4 478) scale(0.9580 1)" font-size="10" text-anchor="end" font-weight="bold">Weight</text>
<text transform="translate(462.3 478) scale(0.9580 1)" font-size="10" text-anchor="end" font-weight="bold">M-H, Random, 95% CI</text>
<text transform="translate(574.1 478) scale(0.9580 1)" font-size="10" text-anchor="middle" font-weight="bold">M-H, Random, 95% CI</text>
<line x1="39.5" y1="479.95" x2="688" y2="479.95" stroke="#4a4a4a" stroke-width="1.4"/>
<line x1="575" y1="479.95" x2="575" y2="619.25" stroke="#4a4a4a" stroke-width="1.2"/>
<text x="47.6" y="492.5" font-size="10">1999 Abel</text>
<text x="189.6" y="492.5" font-size="10" text-anchor="end">127</text>
<text x="236.1" y="492.5" font-size="10" text-anchor="end">655</text>
<text x="276.6" y="492.5" font-size="10" text-anchor="end">226</text>
<text x="313.4" y="492.5" font-size="10" text-anchor="end">1087</text>
<text x="355.4" y="492.5" font-size="10" text-anchor="end">16.3%</text>
<text x="462.3" y="492.5" font-size="10" text-anchor="end">0.93 [0.77, 1.13]</text>
<line x1="567.64" y1="486.5" x2="578.44" y2="486.5" stroke="#383838" stroke-width="1.3"/>
<rect x="570.76" y="484.3" width="4.4" height="4.4" fill="#0000d8"/>
<text x="47.6" y="505.8" font-size="10">2009 Jood</text>
<text x="189.6" y="505.8" font-size="10" text-anchor="end">126</text>
<text x="236.1" y="505.8" font-size="10" text-anchor="end">566</text>
<text x="276.6" y="505.8" font-size="10" text-anchor="end">46</text>
<text x="313.4" y="505.8" font-size="10" text-anchor="end">593</text>
<text x="355.4" y="505.8" font-size="10" text-anchor="end">12.7%</text>
<text x="462.3" y="505.8" font-size="10" text-anchor="end">2.87 [2.09, 3.94]</text>
<line x1="595.76" y1="499.8" x2="613.62" y2="499.8" stroke="#383838" stroke-width="1.3"/>
<rect x="602.98" y="498.09" width="3.43" height="3.43" fill="#0000d8"/>
<text x="47.6" y="519.1" font-size="10">2010 O<tspan font-weight="bold" font-size="1.2em" dx="1.2" dy="1">’</tspan> <tspan dx="3.25" dy="-1">Donne</tspan></text>
<text x="189.6" y="519.1" font-size="10" text-anchor="end">465</text>
<text x="236.1" y="519.1" font-size="10" text-anchor="end">2324</text>
<text x="276.6" y="519.1" font-size="10" text-anchor="end">440</text>
<text x="313.4" y="519.1" font-size="10" text-anchor="end">2987</text>
<text x="355.4" y="519.1" font-size="10" text-anchor="end">18.2%</text>
<text x="462.3" y="519.1" font-size="10" text-anchor="end">1.36 [1.21, 1.53]</text>
<line x1="580.37" y1="513.1" x2="586.98" y2="513.1" stroke="#383838" stroke-width="1.3"/>
<rect x="581.2" y="510.64" width="4.91" height="4.91" fill="#0000d8"/>
<text x="47.6" y="532.4" font-size="10">2020 Prasad</text>
<text x="189.6" y="532.4" font-size="10" text-anchor="end">38</text>
<text x="236.1" y="532.4" font-size="10" text-anchor="end">151</text>
<text x="276.6" y="532.4" font-size="10" text-anchor="end">9</text>
<text x="313.4" y="532.4" font-size="10" text-anchor="end">151</text>
<text x="355.4" y="532.4" font-size="10" text-anchor="end">5.5%</text>
<text x="462.3" y="532.4" font-size="10" text-anchor="end">4.22 [2.12, 8.42]</text>
<line x1="596.16" y1="526.4" x2="635.01" y2="526.4" stroke="#383838" stroke-width="1.3"/>
<rect x="614.45" y="525.3" width="2.2" height="2.2" fill="#0000d8"/>
<text x="47.6" y="545.7" font-size="10">2022 Reddin</text>
<text x="189.6" y="545.7" font-size="10" text-anchor="end">2101</text>
<text x="236.1" y="545.7" font-size="10" text-anchor="end">10298</text>
<text x="276.6" y="545.7" font-size="10" text-anchor="end">1944</text>
<text x="313.4" y="545.7" font-size="10" text-anchor="end">13506</text>
<text x="355.4" y="545.7" font-size="10" text-anchor="end">19.3%</text>
<text x="462.3" y="545.7" font-size="10" text-anchor="end">1.42 [1.34, 1.50]</text>
<line x1="583.24" y1="539.7" x2="586.42" y2="539.7" stroke="#383838" stroke-width="1.3"/>
<rect x="582.27" y="537.09" width="5.21" height="5.21" fill="#0000d8"/>
<text x="47.6" y="559" font-size="10">2023 Maalouf</text>
<text x="189.6" y="559" font-size="10" text-anchor="end">31</text>
<text x="236.1" y="559" font-size="10" text-anchor="end">113</text>
<text x="276.6" y="559" font-size="10" text-anchor="end">62</text>
<text x="313.4" y="559" font-size="10" text-anchor="end">451</text>
<text x="355.4" y="559" font-size="10" text-anchor="end">11.0%</text>
<text x="462.3" y="559" font-size="10" text-anchor="end">2.00 [1.37, 2.91]</text>
<line x1="583.87" y1="553" x2="605.08" y2="553" stroke="#383838" stroke-width="1.3"/>
<rect x="593.04" y="551.51" width="2.97" height="2.97" fill="#0000d8"/>
<text x="47.6" y="572.3" font-size="10">2025 Kutal</text>
<text x="189.6" y="572.3" font-size="10" text-anchor="end">197</text>
<text x="236.1" y="572.3" font-size="10" text-anchor="end">426</text>
<text x="276.6" y="572.3" font-size="10" text-anchor="end">142</text>
<text x="313.4" y="572.3" font-size="10" text-anchor="end">426</text>
<text x="355.4" y="572.3" font-size="10" text-anchor="end">17.0%</text>
<text x="462.3" y="572.3" font-size="10" text-anchor="end">1.39 [1.17, 1.64]</text>
<line x1="579.42" y1="566.3" x2="588.93" y2="566.3" stroke="#383838" stroke-width="1.3"/>
<rect x="581.98" y="564" width="4.59" height="4.59" fill="#0000d8"/>
<text transform="translate(47.6 598) scale(0.9580 1)" font-size="10" font-weight="bold">Total (95% CI)</text>
<text x="236.1" y="598" font-size="10" text-anchor="end" font-weight="bold">14533</text>
<text x="313.4" y="598" font-size="10" text-anchor="end" font-weight="bold">19201</text>
<text transform="translate(355.4 598) scale(0.9500 1)" font-size="10" text-anchor="end" font-weight="bold">100.0%</text>
<text transform="translate(462.3 598) scale(0.9900 1)" font-size="10" text-anchor="end" font-weight="bold">1.58 [1.30, 1.91]</text>
<polygon points="582.39,592.5 587.88,587 593.23,592.5 587.88,598" fill="#000"/>
<text x="47.6" y="612" font-size="10">Total events</text>
<text x="189.6" y="612" font-size="10" text-anchor="end">3085</text>
<text x="276.6" y="612" font-size="10" text-anchor="end">2869</text>
<text x="47.6" y="625.5" font-size="10">Heterogeneity: Tau<tspan font-weight="bold" baseline-shift="0.7">²</tspan> = 0.05; Chi<tspan font-weight="bold" baseline-shift="0.7">²</tspan> = 50.02, df = 6 (P &lt; 0.00001); I<tspan font-weight="bold" baseline-shift="0.7">²</tspan> = 88%</text>
<text x="47.6" y="638.75" font-size="10">Test for overall effect: Z = 4.70 (P &lt; 0.00001)</text>
<line x1="470.75" y1="619.25" x2="678.75" y2="619.25" stroke="#4a4a4a" stroke-width="1.4"/>
<line x1="490.63" y1="615.75" x2="490.63" y2="622.75" stroke="#4a4a4a" stroke-width="1.3"/>
<text x="480.9" y="632.5" font-size="10">0.05</text>
<line x1="529.67" y1="615.75" x2="529.67" y2="622.75" stroke="#4a4a4a" stroke-width="1.3"/>
<text x="522.72" y="632.5" font-size="10">0.2</text>
<line x1="575" y1="615.75" x2="575" y2="622.75" stroke="#4a4a4a" stroke-width="1.3"/>
<text x="572.22" y="632.5" font-size="10">1</text>
<line x1="620.33" y1="615.75" x2="620.33" y2="622.75" stroke="#4a4a4a" stroke-width="1.3"/>
<text x="617.55" y="632.5" font-size="10">5</text>
<line x1="659.37" y1="615.75" x2="659.37" y2="622.75" stroke="#4a4a4a" stroke-width="1.3"/>
<text x="653.81" y="632.5" font-size="10">20</text>
<text x="570.4" y="645" font-size="10" text-anchor="end" class="fav">Favours [Ischemic Stroke]</text>
<text x="578.9" y="645" font-size="10" class="fav">Favours [control]</text>
</g>
<g style="stroke-width:0.24px">
<text transform="translate(872.6 435.8) scale(0.95 1)" font-size="18.4" class="lbl">F</text>
<text transform="translate(1035.1 408.75) scale(0.8870 1)" font-size="10.45" text-anchor="middle" font-weight="bold">Hemorrhagic stroke</text>
<text transform="translate(1126.9 408.75) scale(0.8870 1)" font-size="10.45" text-anchor="middle" font-weight="bold">Control</text>
<text transform="translate(1250 408.75) scale(0.8870 1)" font-size="10.45" text-anchor="middle" font-weight="bold">Risk Ratio</text>
<text transform="translate(1411.25 408.75) scale(0.8870 1)" font-size="10.45" text-anchor="middle" font-weight="bold">Risk Ratio</text>
<text transform="translate(889.1 421.75) scale(0.8870 1)" font-size="10.45" font-weight="bold">Study or Subgroup</text>
<text transform="translate(1034.9 421.75) scale(0.8870 1)" font-size="10.45" text-anchor="end" font-weight="bold">Events</text>
<text transform="translate(1089.1 421.75) scale(0.8870 1)" font-size="10.45" text-anchor="end" font-weight="bold">Total</text>
<text transform="translate(1127.9 421.75) scale(0.8870 1)" font-size="10.45" text-anchor="end" font-weight="bold">Events</text>
<text transform="translate(1164.6 421.75) scale(0.8870 1)" font-size="10.45" text-anchor="end" font-weight="bold">Total</text>
<text transform="translate(1204.5 421.75) scale(0.8870 1)" font-size="10.45" text-anchor="end" font-weight="bold">Weight</text>
<text transform="translate(1295.1 421.75) scale(0.8870 1)" font-size="10.45" text-anchor="end" font-weight="bold">M-H, Fixed, 95% CI</text>
<text transform="translate(1411.1 421.75) scale(0.8870 1)" font-size="10.45" text-anchor="middle" font-weight="bold">M-H, Fixed, 95% CI</text>
<line x1="873" y1="423.4" x2="1529.2" y2="423.4" stroke="#4a4a4a" stroke-width="1.4"/>
<line x1="1411.75" y1="423.4" x2="1411.75" y2="507.5" stroke="#4a4a4a" stroke-width="1.2"/>
<text transform="translate(889.1 435.5) scale(0.9259 1)" font-size="10.45">2010 O<tspan font-weight="bold" font-size="1.2em" dx="1.16" dy="0.97">’</tspan> <tspan dx="3.15" dy="-0.97">Donne</tspan></text>
<text transform="translate(1034.9 435.5) scale(0.9259 1)" font-size="10.45" text-anchor="end">124</text>
<text transform="translate(1089.1 435.5) scale(0.9259 1)" font-size="10.45" text-anchor="end">654</text>
<text transform="translate(1127.9 435.5) scale(0.9259 1)" font-size="10.45" text-anchor="end">440</text>
<text transform="translate(1164.6 435.5) scale(0.9259 1)" font-size="10.45" text-anchor="end">2987</text>
<text transform="translate(1204.5 435.5) scale(0.9259 1)" font-size="10.45" text-anchor="end">16.7%</text>
<text transform="translate(1295.1 435.5) scale(0.9259 1)" font-size="10.45" text-anchor="end">1.29 [1.07, 1.54]</text>
<line x1="1414.36" y1="430.2" x2="1428.39" y2="430.2" stroke="#383838" stroke-width="1.3"/>
<rect x="1420.25" y="428.89" width="2.62" height="2.62" fill="#0000d8"/>
<text transform="translate(889.1 448.13) scale(0.9259 1)" font-size="10.45">2018 Wilde</text>
<text transform="translate(1034.9 448.13) scale(0.9259 1)" font-size="10.45" text-anchor="end">93</text>
<text transform="translate(1089.1 448.13) scale(0.9259 1)" font-size="10.45" text-anchor="end">467</text>
<text transform="translate(1127.9 448.13) scale(0.9259 1)" font-size="10.45" text-anchor="end">103</text>
<text transform="translate(1164.6 448.13) scale(0.9259 1)" font-size="10.45" text-anchor="end">733</text>
<text transform="translate(1204.5 448.13) scale(0.9259 1)" font-size="10.45" text-anchor="end">8.5%</text>
<text transform="translate(1295.1 448.13) scale(0.9259 1)" font-size="10.45" text-anchor="end">1.42 [1.10, 1.83]</text>
<line x1="1415.42" y1="442.83" x2="1435.04" y2="442.83" stroke="#383838" stroke-width="1.3"/>
<rect x="1424.17" y="441.73" width="2.2" height="2.2" fill="#0000d8"/>
<text transform="translate(889.1 460.76) scale(0.9259 1)" font-size="10.45">2022 Reddin</text>
<text transform="translate(1034.9 460.76) scale(0.9259 1)" font-size="10.45" text-anchor="end">633</text>
<text transform="translate(1089.1 460.76) scale(0.9259 1)" font-size="10.45" text-anchor="end">3008</text>
<text transform="translate(1127.9 460.76) scale(0.9259 1)" font-size="10.45" text-anchor="end">1944</text>
<text transform="translate(1164.6 460.76) scale(0.9259 1)" font-size="10.45" text-anchor="end">13506</text>
<text transform="translate(1204.5 460.76) scale(0.9259 1)" font-size="10.45" text-anchor="end">74.8%</text>
<text transform="translate(1295.1 460.76) scale(0.9259 1)" font-size="10.45" text-anchor="end">1.46 [1.35, 1.58]</text>
<line x1="1423.32" y1="455.46" x2="1429.38" y2="455.46" stroke="#383838" stroke-width="1.3"/>
<rect x="1420.46" y="449.59" width="11.74" height="11.74" fill="#0000d8"/>
<text transform="translate(889.1 486.25) scale(0.8870 1)" font-size="10.45" font-weight="bold">Total (95% CI)</text>
<text transform="translate(1089.1 486.25) scale(0.9259 1)" font-size="10.45" text-anchor="end" font-weight="bold">4129</text>
<text transform="translate(1164.6 486.25) scale(0.9259 1)" font-size="10.45" text-anchor="end" font-weight="bold">17226</text>
<text transform="translate(1204.5 486.25) scale(0.8796 1)" font-size="10.45" text-anchor="end" font-weight="bold">100.0%</text>
<text transform="translate(1295.1 486.25) scale(0.9167 1)" font-size="10.45" text-anchor="end" font-weight="bold">1.43 [1.33, 1.53]</text>
<polygon points="1422.74,480.75 1425.54,476.15 1428.14,480.75 1425.54,485.35" fill="#000"/>
<text transform="translate(889.1 499.4) scale(0.9259 1)" font-size="10.45">Total events</text>
<text transform="translate(1034.9 499.4) scale(0.9259 1)" font-size="10.45" text-anchor="end">850</text>
<text transform="translate(1127.9 499.4) scale(0.9259 1)" font-size="10.45" text-anchor="end">2487</text>
<text transform="translate(889.1 512.75) scale(0.9259 1)" font-size="10.45">Heterogeneity: Chi<tspan font-weight="bold" baseline-shift="0.68">²</tspan> = 1.60, df = 2 (P = 0.45); I<tspan font-weight="bold" baseline-shift="0.68">²</tspan> = 0%</text>
<text transform="translate(889.1 526.25) scale(0.9259 1)" font-size="10.45">Test for overall effect: Z = 9.90 (P &lt; 0.00001)</text>
<line x1="1303.5" y1="507.5" x2="1520.5" y2="507.5" stroke="#4a4a4a" stroke-width="1.4"/>
<line x1="1323" y1="504" x2="1323" y2="511" stroke="#4a4a4a" stroke-width="1.3"/>
<text transform="translate(1316.27 519.25) scale(0.9259 1)" font-size="10.45">0.1</text>
<line x1="1349.72" y1="504" x2="1349.72" y2="511" stroke="#4a4a4a" stroke-width="1.3"/>
<text transform="translate(1342.99 519.25) scale(0.9259 1)" font-size="10.45">0.2</text>
<line x1="1385.03" y1="504" x2="1385.03" y2="511" stroke="#4a4a4a" stroke-width="1.3"/>
<text transform="translate(1378.31 519.25) scale(0.9259 1)" font-size="10.45">0.5</text>
<line x1="1411.75" y1="504" x2="1411.75" y2="511" stroke="#4a4a4a" stroke-width="1.3"/>
<text transform="translate(1409.06 519.25) scale(0.9259 1)" font-size="10.45">1</text>
<line x1="1438.47" y1="504" x2="1438.47" y2="511" stroke="#4a4a4a" stroke-width="1.3"/>
<text transform="translate(1435.78 519.25) scale(0.9259 1)" font-size="10.45">2</text>
<line x1="1473.78" y1="504" x2="1473.78" y2="511" stroke="#4a4a4a" stroke-width="1.3"/>
<text transform="translate(1471.09 519.25) scale(0.9259 1)" font-size="10.45">5</text>
<line x1="1500.5" y1="504" x2="1500.5" y2="511" stroke="#4a4a4a" stroke-width="1.3"/>
<text transform="translate(1495.12 519.25) scale(0.9259 1)" font-size="10.45">10</text>
<text transform="translate(1407.6 531.25) scale(0.9259 1)" font-size="10.45" text-anchor="end" class="fav">Favours [hemorrhagic stroke]</text>
<text transform="translate(1415.6 531.25) scale(0.9259 1)" font-size="10.45" class="fav">Favours [control]</text>
</g>
<g style="stroke-width:0.35px">
<text transform="translate(5.5 699.9) scale(0.95 1)" font-size="18.4" class="lbl">G</text>
<text transform="translate(190.9 672.5) scale(0.9580 1)" font-size="11.42" text-anchor="middle" font-weight="bold">Stroke</text>
<text transform="translate(273.6 672.5) scale(0.9580 1)" font-size="11.42" text-anchor="middle" font-weight="bold">Control</text>
<text transform="translate(415 672.5) scale(0.9580 1)" font-size="11.42" text-anchor="middle" font-weight="bold">Risk Ratio</text>
<text transform="translate(572.9 672.5) scale(0.9580 1)" font-size="11.42" text-anchor="middle" font-weight="bold">Risk Ratio</text>
<text transform="translate(40.3 687.5) scale(0.9580 1)" font-size="11.42" font-weight="bold">Study or Subgroup</text>
<text transform="translate(195.9 687.5) scale(0.9580 1)" font-size="11.42" text-anchor="end" font-weight="bold">Events</text>
<text transform="translate(232.1 687.5) scale(0.9580 1)" font-size="11.42" text-anchor="end" font-weight="bold">Total</text>
<text transform="translate(277.9 687.5) scale(0.9580 1)" font-size="11.42" text-anchor="end" font-weight="bold">Events</text>
<text transform="translate(314.1 687.5) scale(0.9580 1)" font-size="11.42" text-anchor="end" font-weight="bold">Total</text>
<text transform="translate(362 687.5) scale(0.9580 1)" font-size="11.42" text-anchor="end" font-weight="bold">Weight</text>
<text transform="translate(468.4 687.5) scale(0.9580 1)" font-size="11.42" text-anchor="end" font-weight="bold">M-H, Fixed, 95% CI</text>
<text transform="translate(572.75 687.5) scale(0.9580 1)" font-size="11.42" text-anchor="middle" font-weight="bold">M-H, Fixed, 95% CI</text>
<line x1="31.2" y1="689.3" x2="679" y2="689.3" stroke="#4a4a4a" stroke-width="1.4"/>
<line x1="573.5" y1="689.3" x2="573.5" y2="772.5" stroke="#4a4a4a" stroke-width="1.2"/>
<text x="40.3" y="704.25" font-size="11.42">2022 Reddin</text>
<text x="195.9" y="704.25" font-size="11.42" text-anchor="end">972</text>
<text x="232.1" y="704.25" font-size="11.42" text-anchor="end">7940</text>
<text x="277.9" y="704.25" font-size="11.42" text-anchor="end">615</text>
<text x="314.1" y="704.25" font-size="11.42" text-anchor="end">8036</text>
<text x="362" y="704.25" font-size="11.42" text-anchor="end">91.3%</text>
<text x="468.4" y="704.25" font-size="11.42" text-anchor="end">1.60 [1.45, 1.76]</text>
<line x1="581.16" y1="697.25" x2="585.16" y2="697.25" stroke="#383838" stroke-width="1.3"/>
<rect x="575.21" y="689.26" width="15.98" height="15.98" fill="#0000d8"/>
<text x="40.3" y="719.25" font-size="11.42">2025 Kutal</text>
<text x="195.9" y="719.25" font-size="11.42" text-anchor="end">80</text>
<text x="232.1" y="719.25" font-size="11.42" text-anchor="end">223</text>
<text x="277.9" y="719.25" font-size="11.42" text-anchor="end">58</text>
<text x="314.1" y="719.25" font-size="11.42" text-anchor="end">223</text>
<text x="362" y="719.25" font-size="11.42" text-anchor="end">8.7%</text>
<text x="468.4" y="719.25" font-size="11.42" text-anchor="end">1.38 [1.04, 1.83]</text>
<line x1="574.31" y1="712.25" x2="585.97" y2="712.25" stroke="#383838" stroke-width="1.3"/>
<rect x="579.04" y="711.15" width="2.2" height="2.2" fill="#0000d8"/>
<text transform="translate(40.3 748.75) scale(0.9580 1)" font-size="11.42" font-weight="bold">Total (95% CI)</text>
<text x="232.1" y="748.75" font-size="11.42" text-anchor="end" font-weight="bold">8163</text>
<text x="314.1" y="748.75" font-size="11.42" text-anchor="end" font-weight="bold">8259</text>
<text transform="translate(362 748.75) scale(0.9500 1)" font-size="11.42" text-anchor="end" font-weight="bold">100.0%</text>
<text transform="translate(468.4 748.75) scale(0.9900 1)" font-size="11.42" text-anchor="end" font-weight="bold">1.58 [1.44, 1.73]</text>
<polygon points="581.02,742.35 582.94,736.35 584.81,742.35 582.94,748.35" fill="#000"/>
<text x="40.3" y="765" font-size="11.42">Total events</text>
<text x="195.9" y="765" font-size="11.42" text-anchor="end">1052</text>
<text x="277.9" y="765" font-size="11.42" text-anchor="end">673</text>
<text x="40.3" y="780.5" font-size="11.42">Heterogeneity: Chi<tspan font-weight="bold" baseline-shift="0.8">²</tspan> = 0.95, df = 1 (P = 0.33); I<tspan font-weight="bold" baseline-shift="0.8">²</tspan> = 0%</text>
<text x="40.3" y="795.5" font-size="11.42">Test for overall effect: Z = 9.84 (P &lt; 0.00001)</text>
<line x1="478.25" y1="772.5" x2="669.25" y2="772.5" stroke="#4a4a4a" stroke-width="1.4"/>
<line x1="478.5" y1="769" x2="478.5" y2="776" stroke="#4a4a4a" stroke-width="1.3"/>
<text x="478.25" y="788" font-size="11.42">0.01</text>
<line x1="526" y1="769" x2="526" y2="776" stroke="#4a4a4a" stroke-width="1.3"/>
<text x="518.06" y="788" font-size="11.42">0.1</text>
<line x1="573.5" y1="769" x2="573.5" y2="776" stroke="#4a4a4a" stroke-width="1.3"/>
<text x="570.33" y="788" font-size="11.42">1</text>
<line x1="621" y1="769" x2="621" y2="776" stroke="#4a4a4a" stroke-width="1.3"/>
<text x="614.65" y="788" font-size="11.42">10</text>
<line x1="668.5" y1="769" x2="668.5" y2="776" stroke="#4a4a4a" stroke-width="1.3"/>
<text x="650.2" y="788" font-size="11.42">100</text>
<text x="569.2" y="802" font-size="11.42" text-anchor="end" class="fav">Favours [Stroke]</text>
<text x="578.3" y="802" font-size="11.42" class="fav">Favours [control]</text>
</g>
<g style="stroke-width:0.35px">
<text transform="translate(5.8 877.5) scale(0.95 1)" font-size="18.4" class="lbl">H</text>
<text transform="translate(184.6 842) scale(0.9580 1)" font-size="11.4" text-anchor="middle" font-weight="bold">Stroke</text>
<text transform="translate(267.5 842) scale(0.9580 1)" font-size="11.4" text-anchor="middle" font-weight="bold">Control</text>
<text transform="translate(409.1 842) scale(0.9580 1)" font-size="11.4" text-anchor="middle" font-weight="bold">Risk Ratio</text>
<text transform="translate(566.9 842) scale(0.9580 1)" font-size="11.4" text-anchor="middle" font-weight="bold">Risk Ratio</text>
<text transform="translate(34.6 857) scale(0.9580 1)" font-size="11.4" font-weight="bold">Study or Subgroup</text>
<text transform="translate(189.6 857) scale(0.9580 1)" font-size="11.4" text-anchor="end" font-weight="bold">Events</text>
<text transform="translate(226.1 857) scale(0.9580 1)" font-size="11.4" text-anchor="end" font-weight="bold">Total</text>
<text transform="translate(271.6 857) scale(0.9580 1)" font-size="11.4" text-anchor="end" font-weight="bold">Events</text>
<text transform="translate(308.4 857) scale(0.9580 1)" font-size="11.4" text-anchor="end" font-weight="bold">Total</text>
<text transform="translate(355.4 857) scale(0.9580 1)" font-size="11.4" text-anchor="end" font-weight="bold">Weight</text>
<text transform="translate(462.4 857) scale(0.9580 1)" font-size="11.4" text-anchor="end" font-weight="bold">M-H, Fixed, 95% CI</text>
<text transform="translate(566.6 857) scale(0.9580 1)" font-size="11.4" text-anchor="middle" font-weight="bold">M-H, Fixed, 95% CI</text>
<line x1="25" y1="859" x2="673" y2="859" stroke="#4a4a4a" stroke-width="1.4"/>
<line x1="567.3" y1="859" x2="567.3" y2="943" stroke="#4a4a4a" stroke-width="1.2"/>
<text x="34.6" y="873.75" font-size="11.4">2022 Reddin</text>
<text x="189.6" y="873.75" font-size="11.4" text-anchor="end">920</text>
<text x="226.1" y="873.75" font-size="11.4" text-anchor="end">5379</text>
<text x="271.6" y="873.75" font-size="11.4" text-anchor="end">671</text>
<text x="308.4" y="873.75" font-size="11.4" text-anchor="end">5429</text>
<text x="355.4" y="873.75" font-size="11.4" text-anchor="end">88.8%</text>
<text x="462.4" y="873.75" font-size="11.4" text-anchor="end">1.38 [1.26, 1.52]</text>
<line x1="580.76" y1="867.15" x2="591.69" y2="867.15" stroke="#383838" stroke-width="1.3"/>
<rect x="578.29" y="859.38" width="15.54" height="15.54" fill="#0000d8"/>
<text x="34.6" y="889.25" font-size="11.4">2025 Kutal</text>
<text x="189.6" y="889.25" font-size="11.4" text-anchor="end">117</text>
<text x="226.1" y="889.25" font-size="11.4" text-anchor="end">203</text>
<text x="271.6" y="889.25" font-size="11.4" text-anchor="end">84</text>
<text x="308.4" y="889.25" font-size="11.4" text-anchor="end">203</text>
<text x="355.4" y="889.25" font-size="11.4" text-anchor="end">11.2%</text>
<text x="462.4" y="889.25" font-size="11.4" text-anchor="end">1.39 [1.14, 1.70]</text>
<line x1="574.93" y1="882.65" x2="598.2" y2="882.65" stroke="#383838" stroke-width="1.3"/>
<rect x="585.38" y="881.55" width="2.2" height="2.2" fill="#0000d8"/>
<text transform="translate(34.6 918.75) scale(0.9580 1)" font-size="11.4" font-weight="bold">Total (95% CI)</text>
<text x="226.1" y="918.75" font-size="11.4" text-anchor="end" font-weight="bold">5582</text>
<text x="308.4" y="918.75" font-size="11.4" text-anchor="end" font-weight="bold">5632</text>
<text transform="translate(355.4 918.75) scale(0.9500 1)" font-size="11.4" text-anchor="end" font-weight="bold">100.0%</text>
<text transform="translate(462.4 918.75) scale(0.9900 1)" font-size="11.4" text-anchor="end" font-weight="bold">1.38 [1.27, 1.51]</text>
<polygon points="581.22,912.75 586.06,906.75 591.3,912.75 586.06,918.75" fill="#000"/>
<text x="34.6" y="934.25" font-size="11.4">Total events</text>
<text x="189.6" y="934.25" font-size="11.4" text-anchor="end">1037</text>
<text x="271.6" y="934.25" font-size="11.4" text-anchor="end">755</text>
<text x="34.6" y="950" font-size="11.4">Heterogeneity: Chi<tspan font-weight="bold" baseline-shift="0.8">²</tspan> = 0.00, df = 1 (P = 0.95); I<tspan font-weight="bold" baseline-shift="0.8">²</tspan> = 0%</text>
<text x="34.6" y="965" font-size="11.4">Test for overall effect: Z = 7.52 (P &lt; 0.00001)</text>
<line x1="473" y1="943" x2="661.75" y2="943" stroke="#4a4a4a" stroke-width="1.4"/>
<line x1="473.57" y1="939.5" x2="473.57" y2="946.5" stroke="#4a4a4a" stroke-width="1.3"/>
<text x="473" y="957.5" font-size="11.4">0.2</text>
<line x1="526.93" y1="939.5" x2="526.93" y2="946.5" stroke="#4a4a4a" stroke-width="1.3"/>
<text x="519.01" y="957.5" font-size="11.4">0.5</text>
<line x1="567.3" y1="939.5" x2="567.3" y2="946.5" stroke="#4a4a4a" stroke-width="1.3"/>
<text x="564.13" y="957.5" font-size="11.4">1</text>
<line x1="607.67" y1="939.5" x2="607.67" y2="946.5" stroke="#4a4a4a" stroke-width="1.3"/>
<text x="604.5" y="957.5" font-size="11.4">2</text>
<line x1="661.03" y1="939.5" x2="661.03" y2="946.5" stroke="#4a4a4a" stroke-width="1.3"/>
<text x="655.41" y="957.5" font-size="11.4">5</text>
<text x="562.4" y="971.75" font-size="11.4" text-anchor="end" class="fav">Favours [stroke]</text>
<text x="572.1" y="971.75" font-size="11.4" class="fav">Favours [control]</text>
</g>
<g style="stroke-width:0.35px">
<text transform="translate(872.8 603.8) scale(0.95 1)" font-size="18.4" class="lbl">I</text>
<text transform="translate(1027.6 560.5) scale(0.9580 1)" font-size="10.99" text-anchor="middle" font-weight="bold">Stroke</text>
<text transform="translate(1112.9 560.5) scale(0.9580 1)" font-size="10.99" text-anchor="middle" font-weight="bold">Control</text>
<text transform="translate(1260.4 560.5) scale(0.9580 1)" font-size="10.99" text-anchor="middle" font-weight="bold">Risk Ratio</text>
<text transform="translate(1418.4 560.5) scale(0.9580 1)" font-size="10.99" text-anchor="middle" font-weight="bold">Risk Ratio</text>
<text transform="translate(881.3 574.5) scale(0.9580 1)" font-size="10.99" font-weight="bold">Study or Subgroup</text>
<text transform="translate(1029.6 574.5) scale(0.9580 1)" font-size="10.99" text-anchor="end" font-weight="bold">Events</text>
<text transform="translate(1070.6 574.5) scale(0.9580 1)" font-size="10.99" text-anchor="end" font-weight="bold">Total</text>
<text transform="translate(1114.9 574.5) scale(0.9580 1)" font-size="10.99" text-anchor="end" font-weight="bold">Events</text>
<text transform="translate(1155.9 574.5) scale(0.9580 1)" font-size="10.99" text-anchor="end" font-weight="bold">Total</text>
<text transform="translate(1201.1 574.5) scale(0.9580 1)" font-size="10.99" text-anchor="end" font-weight="bold">Weight</text>
<text transform="translate(1318.3 574.5) scale(0.9580 1)" font-size="10.99" text-anchor="end" font-weight="bold">M-H, Random, 95% CI</text>
<text transform="translate(1418.1 574.5) scale(0.9580 1)" font-size="10.99" text-anchor="middle" font-weight="bold">M-H, Random, 95% CI</text>
<line x1="872" y1="577" x2="1520" y2="577" stroke="#4a4a4a" stroke-width="1.4"/>
<line x1="1419" y1="577" x2="1419" y2="760" stroke="#4a4a4a" stroke-width="1.2"/>
<text x="881.3" y="590.5" font-size="10.99">1999 Abel</text>
<text x="1029.6" y="590.5" font-size="10.99" text-anchor="end">127</text>
<text x="1070.6" y="590.5" font-size="10.99" text-anchor="end">655</text>
<text x="1114.9" y="590.5" font-size="10.99" text-anchor="end">226</text>
<text x="1155.9" y="590.5" font-size="10.99" text-anchor="end">1987</text>
<text x="1201.1" y="590.5" font-size="10.99" text-anchor="end">12.0%</text>
<text x="1318.3" y="590.5" font-size="10.99" text-anchor="end">1.70 [1.40, 2.08]</text>
<line x1="1433.87" y1="584.2" x2="1451.36" y2="584.2" stroke="#383838" stroke-width="1.3"/>
<rect x="1440.71" y="582.46" width="3.48" height="3.48" fill="#0000d8"/>
<text x="881.3" y="605.14" font-size="10.99">2009 Jood</text>
<text x="1029.6" y="605.14" font-size="10.99" text-anchor="end">126</text>
<text x="1070.6" y="605.14" font-size="10.99" text-anchor="end">566</text>
<text x="1114.9" y="605.14" font-size="10.99" text-anchor="end">46</text>
<text x="1155.9" y="605.14" font-size="10.99" text-anchor="end">593</text>
<text x="1201.1" y="605.14" font-size="10.99" text-anchor="end">8.2%</text>
<text x="1318.3" y="605.14" font-size="10.99" text-anchor="end">2.87 [2.09, 3.94]</text>
<line x1="1451.57" y1="598.84" x2="1479.59" y2="598.84" stroke="#383838" stroke-width="1.3"/>
<rect x="1464.4" y="597.65" width="2.38" height="2.38" fill="#0000d8"/>
<text x="881.3" y="619.78" font-size="10.99">2010 O<tspan font-weight="bold" font-size="1.2em" dx="1.32" dy="1.1">’</tspan> <tspan dx="3.57" dy="-1.1">Donne</tspan></text>
<text x="1029.6" y="619.78" font-size="10.99" text-anchor="end">589</text>
<text x="1070.6" y="619.78" font-size="10.99" text-anchor="end">2978</text>
<text x="1114.9" y="619.78" font-size="10.99" text-anchor="end">440</text>
<text x="1155.9" y="619.78" font-size="10.99" text-anchor="end">2987</text>
<text x="1201.1" y="619.78" font-size="10.99" text-anchor="end">15.1%</text>
<text x="1318.3" y="619.78" font-size="10.99" text-anchor="end">1.34 [1.20, 1.50]</text>
<line x1="1427.06" y1="613.48" x2="1436.92" y2="613.48" stroke="#383838" stroke-width="1.3"/>
<rect x="1429.74" y="611.29" width="4.38" height="4.38" fill="#0000d8"/>
<text x="881.3" y="634.42" font-size="10.99">2012 Egido</text>
<text x="1029.6" y="634.42" font-size="10.99" text-anchor="end">62</text>
<text x="1070.6" y="634.42" font-size="10.99" text-anchor="end">150</text>
<text x="1114.9" y="634.42" font-size="10.99" text-anchor="end">50</text>
<text x="1155.9" y="634.42" font-size="10.99" text-anchor="end">300</text>
<text x="1201.1" y="634.42" font-size="10.99" text-anchor="end">8.2%</text>
<text x="1318.3" y="634.42" font-size="10.99" text-anchor="end">2.48 [1.81, 3.40]</text>
<line x1="1445.22" y1="628.12" x2="1473.08" y2="628.12" stroke="#383838" stroke-width="1.3"/>
<rect x="1457.95" y="626.93" width="2.38" height="2.38" fill="#0000d8"/>
<text x="881.3" y="649.06" font-size="10.99">2018 Wilde</text>
<text x="1029.6" y="649.06" font-size="10.99" text-anchor="end">93</text>
<text x="1070.6" y="649.06" font-size="10.99" text-anchor="end">467</text>
<text x="1114.9" y="649.06" font-size="10.99" text-anchor="end">103</text>
<text x="1155.9" y="649.06" font-size="10.99" text-anchor="end">733</text>
<text x="1201.1" y="649.06" font-size="10.99" text-anchor="end">10.0%</text>
<text x="1318.3" y="649.06" font-size="10.99" text-anchor="end">1.42 [1.10, 1.83]</text>
<line x1="1423.21" y1="642.76" x2="1445.7" y2="642.76" stroke="#383838" stroke-width="1.3"/>
<rect x="1433.05" y="641.31" width="2.9" height="2.9" fill="#0000d8"/>
<text x="881.3" y="663.7" font-size="10.99">2022 Reddin</text>
<text x="1029.6" y="663.7" font-size="10.99" text-anchor="end">2745</text>
<text x="1070.6" y="663.7" font-size="10.99" text-anchor="end">13350</text>
<text x="1114.9" y="663.7" font-size="10.99" text-anchor="end">1933</text>
<text x="1155.9" y="663.7" font-size="10.99" text-anchor="end">13462</text>
<text x="1201.1" y="663.7" font-size="10.99" text-anchor="end">16.6%</text>
<text x="1318.3" y="663.7" font-size="10.99" text-anchor="end">1.43 [1.36, 1.51]</text>
<line x1="1432.59" y1="657.4" x2="1437.21" y2="657.4" stroke="#383838" stroke-width="1.3"/>
<rect x="1432.4" y="654.99" width="4.81" height="4.81" fill="#0000d8"/>
<text x="881.3" y="678.34" font-size="10.99">2023 Maalouf</text>
<text x="1029.6" y="678.34" font-size="10.99" text-anchor="end">31</text>
<text x="1070.6" y="678.34" font-size="10.99" text-anchor="end">113</text>
<text x="1114.9" y="678.34" font-size="10.99" text-anchor="end">62</text>
<text x="1155.9" y="678.34" font-size="10.99" text-anchor="end">451</text>
<text x="1201.1" y="678.34" font-size="10.99" text-anchor="end">6.7%</text>
<text x="1318.3" y="678.34" font-size="10.99" text-anchor="end">2.00 [1.37, 2.91]</text>
<line x1="1432.91" y1="672.04" x2="1466.2" y2="672.04" stroke="#383838" stroke-width="1.3"/>
<rect x="1448.53" y="670.94" width="2.2" height="2.2" fill="#0000d8"/>
<text x="881.3" y="692.98" font-size="10.99">2025 Holm</text>
<text x="1029.6" y="692.98" font-size="10.99" text-anchor="end">36</text>
<text x="1070.6" y="692.98" font-size="10.99" text-anchor="end">50</text>
<text x="1114.9" y="692.98" font-size="10.99" text-anchor="end">52</text>
<text x="1155.9" y="692.98" font-size="10.99" text-anchor="end">100</text>
<text x="1201.1" y="692.98" font-size="10.99" text-anchor="end">10.0%</text>
<text x="1318.3" y="692.98" font-size="10.99" text-anchor="end">1.38 [1.07, 1.79]</text>
<line x1="1421.99" y1="686.68" x2="1444.73" y2="686.68" stroke="#383838" stroke-width="1.3"/>
<rect x="1431.78" y="685.23" width="2.9" height="2.9" fill="#0000d8"/>
<text x="881.3" y="707.62" font-size="10.99">2025 Kutal</text>
<text x="1029.6" y="707.62" font-size="10.99" text-anchor="end">197</text>
<text x="1070.6" y="707.62" font-size="10.99" text-anchor="end">426</text>
<text x="1114.9" y="707.62" font-size="10.99" text-anchor="end">142</text>
<text x="1155.9" y="707.62" font-size="10.99" text-anchor="end">426</text>
<text x="1201.1" y="707.62" font-size="10.99" text-anchor="end">13.1%</text>
<text x="1318.3" y="707.62" font-size="10.99" text-anchor="end">1.39 [1.17, 1.64]</text>
<line x1="1425.94" y1="701.32" x2="1440.86" y2="701.32" stroke="#383838" stroke-width="1.3"/>
<rect x="1431.65" y="699.42" width="3.8" height="3.8" fill="#0000d8"/>
<text transform="translate(881.3 735.5) scale(0.9580 1)" font-size="10.99" font-weight="bold">Total (95% CI)</text>
<text x="1070.6" y="735.5" font-size="10.99" text-anchor="end" font-weight="bold">18755</text>
<text x="1155.9" y="735.5" font-size="10.99" text-anchor="end" font-weight="bold">21039</text>
<text transform="translate(1201.1 735.5) scale(0.9500 1)" font-size="10.99" text-anchor="end" font-weight="bold">100.0%</text>
<text transform="translate(1318.3 735.5) scale(0.9900 1)" font-size="10.99" text-anchor="end" font-weight="bold">1.63 [1.43, 1.84]</text>
<polygon points="1434.81,729.7 1440.59,723.7 1445.95,729.7 1440.59,735.7" fill="#000"/>
<text x="881.3" y="751.25" font-size="10.99">Total events</text>
<text x="1029.6" y="751.25" font-size="10.99" text-anchor="end">4006</text>
<text x="1114.9" y="751.25" font-size="10.99" text-anchor="end">3054</text>
<text x="881.3" y="765.75" font-size="10.99">Heterogeneity: Tau<tspan font-weight="bold" baseline-shift="0.77">²</tspan> = 0.02; Chi<tspan font-weight="bold" baseline-shift="0.77">²</tspan> = 36.31, df = 8 (P &lt; 0.0001); I<tspan font-weight="bold" baseline-shift="0.77">²</tspan> = 78%</text>
<text x="881.3" y="780" font-size="10.99">Test for overall effect: Z = 7.58 (P &lt; 0.00001)</text>
<line x1="1328.5" y1="760" x2="1510.5" y2="760" stroke="#4a4a4a" stroke-width="1.4"/>
<line x1="1347.88" y1="756.5" x2="1347.88" y2="763.5" stroke="#4a4a4a" stroke-width="1.3"/>
<text x="1340.24" y="773.75" font-size="10.99">0.2</text>
<line x1="1388.37" y1="756.5" x2="1388.37" y2="763.5" stroke="#4a4a4a" stroke-width="1.3"/>
<text x="1380.73" y="773.75" font-size="10.99">0.5</text>
<line x1="1419" y1="756.5" x2="1419" y2="763.5" stroke="#4a4a4a" stroke-width="1.3"/>
<text x="1415.94" y="773.75" font-size="10.99">1</text>
<line x1="1449.63" y1="756.5" x2="1449.63" y2="763.5" stroke="#4a4a4a" stroke-width="1.3"/>
<text x="1446.57" y="773.75" font-size="10.99">2</text>
<line x1="1490.12" y1="756.5" x2="1490.12" y2="763.5" stroke="#4a4a4a" stroke-width="1.3"/>
<text x="1487.06" y="773.75" font-size="10.99">5</text>
<text x="1415.2" y="787.5" font-size="10.99" text-anchor="end" class="fav">Favours [Stroke]</text>
<text x="1423.8" y="787.5" font-size="10.99" class="fav">Favours [control]</text>
</g>
<g style="stroke-width:0.35px">
<text transform="translate(872.3 851.7) scale(0.95 1)" font-size="18.4" class="lbl">J</text>
<text transform="translate(1037.1 823.75) scale(0.9580 1)" font-size="11.2" text-anchor="middle" font-weight="bold">Stroke</text>
<text transform="translate(1117.9 823.75) scale(0.9580 1)" font-size="11.2" text-anchor="middle" font-weight="bold">Control</text>
<text transform="translate(1264.1 823.75) scale(0.9580 1)" font-size="11.2" text-anchor="middle" font-weight="bold">Risk Ratio</text>
<text transform="translate(1425.5 823.75) scale(0.9580 1)" font-size="11.2" text-anchor="middle" font-weight="bold">Risk Ratio</text>
<text transform="translate(890.5 838.75) scale(0.9580 1)" font-size="11.2" font-weight="bold">Study or Subgroup</text>
<text transform="translate(1041.6 838.75) scale(0.9580 1)" font-size="11.2" text-anchor="end" font-weight="bold">Events</text>
<text transform="translate(1077.2 838.75) scale(0.9580 1)" font-size="11.2" text-anchor="end" font-weight="bold">Total</text>
<text transform="translate(1121.9 838.75) scale(0.9580 1)" font-size="11.2" text-anchor="end" font-weight="bold">Events</text>
<text transform="translate(1157.4 838.75) scale(0.9580 1)" font-size="11.2" text-anchor="end" font-weight="bold">Total</text>
<text transform="translate(1203.6 838.75) scale(0.9580 1)" font-size="11.2" text-anchor="end" font-weight="bold">Weight</text>
<text transform="translate(1323.8 838.75) scale(0.9580 1)" font-size="11.2" text-anchor="end" font-weight="bold">M-H, Random, 95% CI</text>
<text transform="translate(1425.5 838.75) scale(0.9580 1)" font-size="11.2" text-anchor="middle" font-weight="bold">M-H, Random, 95% CI</text>
<line x1="881.2" y1="840.2" x2="1529.2" y2="840.2" stroke="#4a4a4a" stroke-width="1.4"/>
<line x1="1426.3" y1="840.2" x2="1426.3" y2="937.5" stroke="#4a4a4a" stroke-width="1.2"/>
<text x="890.5" y="854.5" font-size="11.2">2018 Sarfo</text>
<text x="1041.6" y="854.5" font-size="11.2" text-anchor="end">134</text>
<text x="1077.2" y="854.5" font-size="11.2" text-anchor="end">515</text>
<text x="1121.9" y="854.5" font-size="11.2" text-anchor="end">103</text>
<text x="1157.4" y="854.5" font-size="11.2" text-anchor="end">515</text>
<text x="1203.6" y="854.5" font-size="11.2" text-anchor="end">32.5%</text>
<text x="1323.8" y="854.5" font-size="11.2" text-anchor="end">1.30 [1.04, 1.63]</text>
<line x1="1428.07" y1="848" x2="1448.39" y2="848" stroke="#383838" stroke-width="1.3"/>
<rect x="1434.75" y="844.59" width="6.83" height="6.83" fill="#0000d8"/>
<text x="890.5" y="869.5" font-size="11.2">2022 Reddin</text>
<text x="1041.6" y="869.5" font-size="11.2" text-anchor="end">273</text>
<text x="1077.2" y="869.5" font-size="11.2" text-anchor="end">1567</text>
<text x="1121.9" y="869.5" font-size="11.2" text-anchor="end">155</text>
<text x="1157.4" y="869.5" font-size="11.2" text-anchor="end">1578</text>
<text x="1203.6" y="869.5" font-size="11.2" text-anchor="end">38.0%</text>
<text x="1323.8" y="869.5" font-size="11.2" text-anchor="end">1.77 [1.48, 2.13]</text>
<line x1="1444.02" y1="863" x2="1460.48" y2="863" stroke="#383838" stroke-width="1.3"/>
<rect x="1448.12" y="859.01" width="7.98" height="7.98" fill="#0000d8"/>
<text x="890.5" y="884.5" font-size="11.2">2025 Kutal</text>
<text x="1041.6" y="884.5" font-size="11.2" text-anchor="end">90</text>
<text x="1077.2" y="884.5" font-size="11.2" text-anchor="end">188</text>
<text x="1121.9" y="884.5" font-size="11.2" text-anchor="end">63</text>
<text x="1157.4" y="884.5" font-size="11.2" text-anchor="end">188</text>
<text x="1203.6" y="884.5" font-size="11.2" text-anchor="end">29.5%</text>
<text x="1323.8" y="884.5" font-size="11.2" text-anchor="end">1.43 [1.11, 1.84]</text>
<line x1="1431.02" y1="878" x2="1453.87" y2="878" stroke="#383838" stroke-width="1.3"/>
<rect x="1439.37" y="874.9" width="6.19" height="6.19" fill="#0000d8"/>
<text transform="translate(890.5 913.5) scale(0.9580 1)" font-size="11.2" font-weight="bold">Total (95% CI)</text>
<text x="1077.2" y="913.5" font-size="11.2" text-anchor="end" font-weight="bold">2270</text>
<text x="1157.4" y="913.5" font-size="11.2" text-anchor="end" font-weight="bold">2281</text>
<text transform="translate(1203.6 913.5) scale(0.9500 1)" font-size="11.2" text-anchor="end" font-weight="bold">100.0%</text>
<text transform="translate(1323.8 913.5) scale(0.9900 1)" font-size="11.2" text-anchor="end" font-weight="bold">1.50 [1.24, 1.83]</text>
<polygon points="1436.03,907.1 1444.63,900.8 1453.62,907.1 1444.63,913.4" fill="#000"/>
<text x="890.5" y="929.25" font-size="11.2">Total events</text>
<text x="1041.6" y="929.25" font-size="11.2" text-anchor="end">497</text>
<text x="1121.9" y="929.25" font-size="11.2" text-anchor="end">321</text>
<text x="890.5" y="943.75" font-size="11.2">Heterogeneity: Tau<tspan font-weight="bold" baseline-shift="0.78">²</tspan> = 0.02; Chi<tspan font-weight="bold" baseline-shift="0.78">²</tspan> = 4.79, df = 2 (P = 0.09); I<tspan font-weight="bold" baseline-shift="0.78">²</tspan> = 58%</text>
<text x="890.5" y="958" font-size="11.2">Test for overall effect: Z = 4.09 (P &lt; 0.0001)</text>
<line x1="1334" y1="937.5" x2="1519.75" y2="937.5" stroke="#4a4a4a" stroke-width="1.4"/>
<line x1="1353.54" y1="934" x2="1353.54" y2="941" stroke="#4a4a4a" stroke-width="1.3"/>
<text x="1345.75" y="951.75" font-size="11.2">0.2</text>
<line x1="1394.96" y1="934" x2="1394.96" y2="941" stroke="#4a4a4a" stroke-width="1.3"/>
<text x="1387.18" y="951.75" font-size="11.2">0.5</text>
<line x1="1426.3" y1="934" x2="1426.3" y2="941" stroke="#4a4a4a" stroke-width="1.3"/>
<text x="1423.19" y="951.75" font-size="11.2">1</text>
<line x1="1457.64" y1="934" x2="1457.64" y2="941" stroke="#4a4a4a" stroke-width="1.3"/>
<text x="1454.52" y="951.75" font-size="11.2">2</text>
<line x1="1499.06" y1="934" x2="1499.06" y2="941" stroke="#4a4a4a" stroke-width="1.3"/>
<text x="1495.95" y="951.75" font-size="11.2">5</text>
<text x="1422" y="965.5" font-size="11.2" text-anchor="end" class="fav">Favours [stroke]</text>
<text x="1431.1" y="965.5" font-size="11.2" class="fav">Favours [control]</text>
</g>
</svg>
</body></html>
